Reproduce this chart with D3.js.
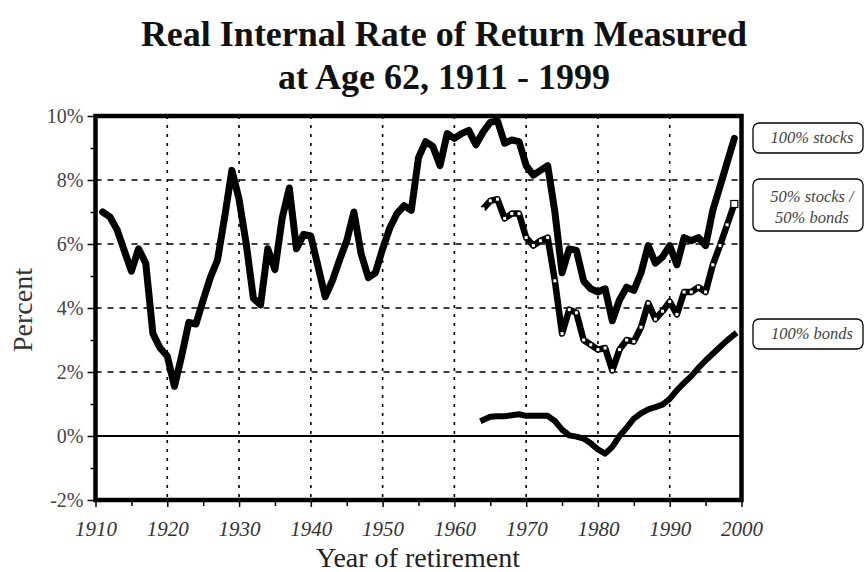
<!DOCTYPE html>
<html><head><meta charset="utf-8">
<script src="https://cdn.jsdelivr.net/npm/d3@7"></script>
<style>body{margin:0;background:#fff}svg{display:block}</style>
</head><body>
<svg id="chart" width="866" height="572"></svg>
<script>
const titleLines = ["Real Internal Rate of Return Measured", "at Age 62, 1911 - 1999"];
const xTickLabels = [1910, 1920, 1930, 1940, 1950, 1960, 1970, 1980, 1990, 2000];
const yTickValues = [-2, 0, 2, 4, 6, 8, 10];
const yearsStocks = [1911,1912,1913,1914,1915,1916,1917,1918,1919,1920,1921,1922,1923,1924,1925,1926,1927,1928,1929,1930,
 1931,1932,1933,1934,1935,1936,1937,1938,1939,1940,1941,1942,1943,1944,1945,1946,1947,1948,1949,1950,
 1951,1952,1953,1954,1955,1956,1957,1958,1959,1960,1961,1962,1963,1964,1965,1966,1967,1968,1969,1970,
 1971,1972,1973,1974,1975,1976,1977,1978,1979,1980,1981,1982,1983,1984,1985,1986,1987,1988,1989,1990,
 1991,1992,1993,1994,1995,1996,1997,1998,1999];
const stocks = [7.0,6.85,6.45,5.8,5.15,5.85,5.4,3.2,2.75,2.5,1.55,2.5,3.55,3.5,4.25,4.95,5.5,6.85,8.3,7.4,
 6.0,4.3,4.1,5.85,5.2,6.8,7.75,5.85,6.3,6.25,5.3,4.35,4.85,5.5,6.1,7.0,5.7,4.95,5.1,5.85,
 6.5,6.95,7.2,7.05,8.7,9.2,9.05,8.45,9.45,9.3,9.45,9.55,9.1,9.5,9.8,9.85,9.15,9.25,9.2,8.45,
 8.15,8.3,8.45,7.0,5.1,5.85,5.8,4.85,4.6,4.5,4.6,3.6,4.25,4.65,4.55,5.1,5.95,5.4,5.6,5.95,
 5.35,6.2,6.1,6.2,5.95,7.05,7.8,8.55,9.3];
const yearsLate = [1964,1965,1966,1967,1968,1969,1970,1971,1972,1973,1974,1975,1976,1977,1978,1979,1980,1981,1982,1983,
 1984,1985,1986,1987,1988,1989,1990,1991,1992,1993,1994,1995,1996,1997,1998,1999];
const mixed = [7.1,7.35,7.4,6.8,6.95,6.95,6.2,5.95,6.1,6.2,4.85,3.2,3.95,3.85,3.0,2.85,2.7,2.75,2.05,2.7,
 3.0,2.95,3.4,4.15,3.65,3.9,4.2,3.8,4.5,4.5,4.65,4.5,5.35,5.95,6.6,7.25];
const bonds = [0.5,0.6,0.62,0.62,0.65,0.68,0.63,0.63,0.63,0.63,0.47,0.2,0.02,-0.02,-0.08,-0.23,-0.42,-0.55,-0.34,0.0,
 0.26,0.54,0.71,0.83,0.9,0.98,1.16,1.43,1.66,1.87,2.13,2.36,2.57,2.78,2.99,3.17];
const legendLabels = [["100% stocks"], ["50% stocks /", "50% bonds"], ["100% bonds"]];

const svg = d3.select("#chart");
const L = 95.5, R = 741.5, T = 116, B = 500;
const x = d3.scaleLinear().domain([1910, 2000]).range([L, R]);
const y = d3.scaleLinear().domain([-2, 10]).range([B, T]);
const serif = "'Liberation Serif','Times New Roman',Times,serif";

// title
svg.append("g").selectAll("text").data(titleLines).join("text")
  .attr("x", 444).attr("y", (d, i) => 46 + i * 43)
  .attr("text-anchor", "middle").attr("font-family", serif)
  .attr("font-weight", "bold").attr("font-size", 36).attr("fill", "#111").text(d => d);

// grid
const grid = svg.append("g");
grid.selectAll("line.v").data(xTickLabels.slice(1, -1)).join("line")
  .attr("x1", d => x(d)).attr("x2", d => x(d)).attr("y1", T).attr("y2", B)
  .attr("stroke", "#000").attr("stroke-width", 1.6).attr("stroke-dasharray", "3,6");
grid.selectAll("line.h").data([2, 4, 6, 8]).join("line")
  .attr("x1", L).attr("x2", R).attr("y1", d => y(d)).attr("y2", d => y(d))
  .attr("stroke", "#000").attr("stroke-width", 1.6).attr("stroke-dasharray", "6,6");
grid.append("line").attr("x1", L).attr("x2", R).attr("y1", y(0)).attr("y2", y(0))
  .attr("stroke", "#000").attr("stroke-width", 2);

// axes
const yAxis = d3.axisLeft(y).tickValues(yTickValues).tickFormat(d => d + "%").tickSize(8).tickPadding(4);
const gy = svg.append("g").attr("transform", `translate(${L},0)`).call(yAxis);
gy.select(".domain").remove();
gy.selectAll("line").attr("stroke-width", 1.5);
gy.selectAll("text").attr("font-family", serif).attr("font-size", 20).attr("fill", "#444");
const yMinor = d3.axisLeft(y).tickValues([-1, 1, 3, 5, 7, 9]).tickFormat("").tickSize(5);
const gym = svg.append("g").attr("transform", `translate(${L},0)`).call(yMinor);
gym.select(".domain").remove();
gym.selectAll("line").attr("stroke-width", 1.5);

const xAxis = d3.axisBottom(x).tickValues(xTickLabels).tickFormat(d3.format("d")).tickSize(7).tickPadding(14);
const gx = svg.append("g").attr("transform", `translate(0,${B})`).call(xAxis);
gx.select(".domain").remove();
gx.selectAll("line").attr("stroke-width", 1.5);
gx.selectAll("text").attr("font-family", serif).attr("font-style", "italic").attr("font-size", 21).attr("fill", "#333");
const xMinor = d3.axisBottom(x).tickValues([1915,1925,1935,1945,1955,1965,1975,1985,1995]).tickFormat("").tickSize(6);
const gxm = svg.append("g").attr("transform", `translate(0,${B})`).call(xMinor);
gxm.select(".domain").remove();
gxm.selectAll("line").attr("stroke-width", 1.5);

// axis titles
svg.append("text").attr("transform", `translate(32,310) rotate(-90)`)
  .attr("text-anchor", "middle").attr("font-family", serif).attr("font-size", 28).attr("fill", "#333").text("Percent");
svg.append("text").attr("x", 418).attr("y", 567).attr("text-anchor", "middle")
  .attr("font-family", serif).attr("font-size", 28).attr("fill", "#222").text("Year of retirement");

// lines
const line = d3.line().x(d => x(d[0])).y(d => y(d[1]));
const stockPts = yearsStocks.map((yr, i) => [yr, stocks[i]]);
const mixedPts = yearsLate.map((yr, i) => [yr, mixed[i]]);
const bondPts = yearsLate.map((yr, i) => [yr, bonds[i]]);
svg.append("path").datum(bondPts).attr("d", line).attr("fill", "none")
  .attr("stroke", "#000").attr("stroke-width", 6).attr("stroke-linejoin", "round").attr("stroke-linecap", "square");
svg.append("path").datum(mixedPts).attr("d", line).attr("fill", "none")
  .attr("stroke", "#000").attr("stroke-width", 6.5).attr("stroke-linejoin", "round");
svg.append("g").selectAll("rect").data(mixedPts).join("rect")
  .attr("x", d => x(d[0]) - 1.5).attr("y", d => y(d[1]) - 1.5)
  .attr("width", 3).attr("height", 3).attr("fill", "#fff");
svg.append("rect").datum(mixedPts[mixedPts.length - 1])
  .attr("x", d => x(d[0]) - 3.5).attr("y", d => y(d[1]) - 3.5)
  .attr("width", 7).attr("height", 7).attr("fill", "#fff").attr("stroke", "#000").attr("stroke-width", 1.2);
svg.append("path").datum(stockPts).attr("d", line).attr("fill", "none")
  .attr("stroke", "#000").attr("stroke-width", 7).attr("stroke-linejoin", "round").attr("stroke-linecap", "round");

// frame
svg.append("rect").attr("x", L).attr("y", T).attr("width", R - L).attr("height", B - T)
  .attr("fill", "none").attr("stroke", "#000").attr("stroke-width", 4.5);

// legend boxes
const boxes = [{y: 123, h: 30}, {y: 179, h: 52}, {y: 319, h: 30}];
const lg = svg.append("g");
boxes.forEach((b, i) => {
  lg.append("rect").attr("x", 753).attr("y", b.y).attr("width", 110).attr("height", b.h)
    .attr("rx", 6).attr("fill", "#fff").attr("stroke", "#000").attr("stroke-width", 1.3);
  const n = legendLabels[i].length;
  lg.append("g").selectAll("text").data(legendLabels[i]).join("text")
    .attr("x", 812).attr("y", (d, j) => n > 1 ? b.y + 23 + j * 21 : b.y + 20)
    .attr("text-anchor", "middle").attr("font-family", serif).attr("font-style", "italic")
    .attr("font-size", 16.5).attr("fill", "#444").text(d => d);
});
</script>
</body></html>
